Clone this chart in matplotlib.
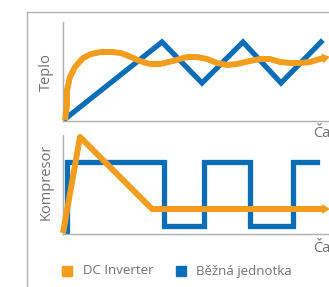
import matplotlib
matplotlib.use("Agg")
import matplotlib.pyplot as plt
from matplotlib.patches import Rectangle
from matplotlib.lines import Line2D

# ---- data ----
teplo_dc_x = [2, 4, 4, 7, 12, 20, 28, 38, 48, 58, 68, 77, 87, 97, 110, 124, 134, 144,
              154, 164, 174, 187, 197, 207, 217, 227, 237, 247, 257, 266]
teplo_dc_y = [1, 16, 31, 44, 54, 63, 67, 69, 69, 68, 64, 60, 57, 57, 60, 64, 64, 62,
              58, 56, 57, 60, 62, 62, 59, 58, 58, 59, 62, 64]
teplo_std_x = [2, 99, 139, 180, 218, 258]
teplo_std_y = [2, 79, 38, 79, 38, 79]

komp_dc_x = [0, 17, 89, 266]
komp_dc_y = [1, 97, 25, 25]
komp_std_x = [4, 4, 101, 101, 141, 141, 187, 187, 230, 230, 254]
komp_std_y = [2, 72, 72, 8, 8, 72, 72, 8, 8, 72, 72]

labels = ["DC Inverter", "Běžná jednotka"]
y_labels = ["Teplo", "Kompresor"]
x_label = "Čas"

ORANGE = "#f39d1e"
BLUE = "#0b6db7"
GRAY_TXT = "#707070"
GRAY_LN = "#b0b0b0"

W, H = 329, 287
fig = plt.figure(figsize=(W / 100, H / 100), dpi=100)
plt.rcParams['font.family'] = ['Open Sans', 'DejaVu Sans']

def fx(px):
    return px / W

def fy(py):
    return 1 - py / H

# outer frame
fig.add_artist(Line2D([fx(27), fx(27)], [fy(12), 0], color=GRAY_LN, lw=1.0))
fig.add_artist(Line2D([fx(27), 1], [fy(12), fy(12)], color=GRAY_LN, lw=1.0))

def make_ax(top_px, bottom_px):
    ax = fig.add_axes([fx(63), fy(bottom_px), 272 / W, (bottom_px - top_px) / H])
    ax.set_xlim(0, 272)
    ax.set_ylim(0, 99)
    for s in ["top", "right"]:
        ax.spines[s].set_visible(False)
    for s in ["left", "bottom"]:
        ax.spines[s].set_color(GRAY_LN)
        ax.spines[s].set_linewidth(1.0)
    ax.set_xticks([])
    ax.set_yticks([])
    ax.patch.set_alpha(0)
    return ax

ax1 = make_ax(22, 121)
ax2 = make_ax(135, 234)

def dc_line(ax, xs, ys):
    x0, y0, x1, y1 = xs[-2], ys[-2], xs[-1], ys[-1]
    slope = (y1 - y0) / (x1 - x0)
    xe = x1 - 5
    ye = y1 - slope * 5
    ax.plot(list(xs[:-1]) + [xe], list(ys[:-1]) + [ye], color=ORANGE, lw=4.3,
            solid_joinstyle='round', solid_capstyle='butt', zorder=3, clip_on=False)
    ax.annotate('', xy=(x1 + 1, y1 + slope), xytext=(x1 - 7, y1 - slope * 7),
                arrowprops=dict(arrowstyle='-|>,head_width=0.35,head_length=0.55', color=ORANGE,
                                lw=0.1, shrinkA=0, shrinkB=0),
                zorder=4, annotation_clip=False)

ax1.plot(teplo_std_x, teplo_std_y, color=BLUE, lw=3.8, solid_joinstyle='miter', zorder=2)
dc_line(ax1, teplo_dc_x, teplo_dc_y)

ax2.plot(komp_std_x, komp_std_y, color=BLUE, lw=3.8, solid_joinstyle='miter', zorder=2)
dc_line(ax2, komp_dc_x, komp_dc_y)

# axis labels
fig.text(fx(46), fy(72), y_labels[0], rotation=90, ha='center', va='center', color=GRAY_TXT, fontsize=10.5)
fig.text(fx(46), fy(182), y_labels[1], rotation=90, ha='center', va='center', color=GRAY_TXT, fontsize=10.5)
fig.text(fx(313), fy(134), x_label, ha='left', va='center', color=GRAY_TXT, fontsize=10.5)
fig.text(fx(313), fy(248), x_label, ha='left', va='center', color=GRAY_TXT, fontsize=10.5)

# legend
fig.add_artist(Rectangle((fx(62), fy(276)), 10 / W, 10 / H, color=ORANGE, transform=fig.transFigure))
fig.add_artist(Rectangle((fx(176), fy(276)), 10 / W, 10 / H, color=BLUE, transform=fig.transFigure))
fig.text(fx(83), fy(271), labels[0], ha='left', va='center', color=GRAY_TXT, fontsize=9.5)
fig.text(fx(196), fy(271), labels[1], ha='left', va='center', color=GRAY_TXT, fontsize=9.5)

fig.savefig("out.png", dpi=100)
